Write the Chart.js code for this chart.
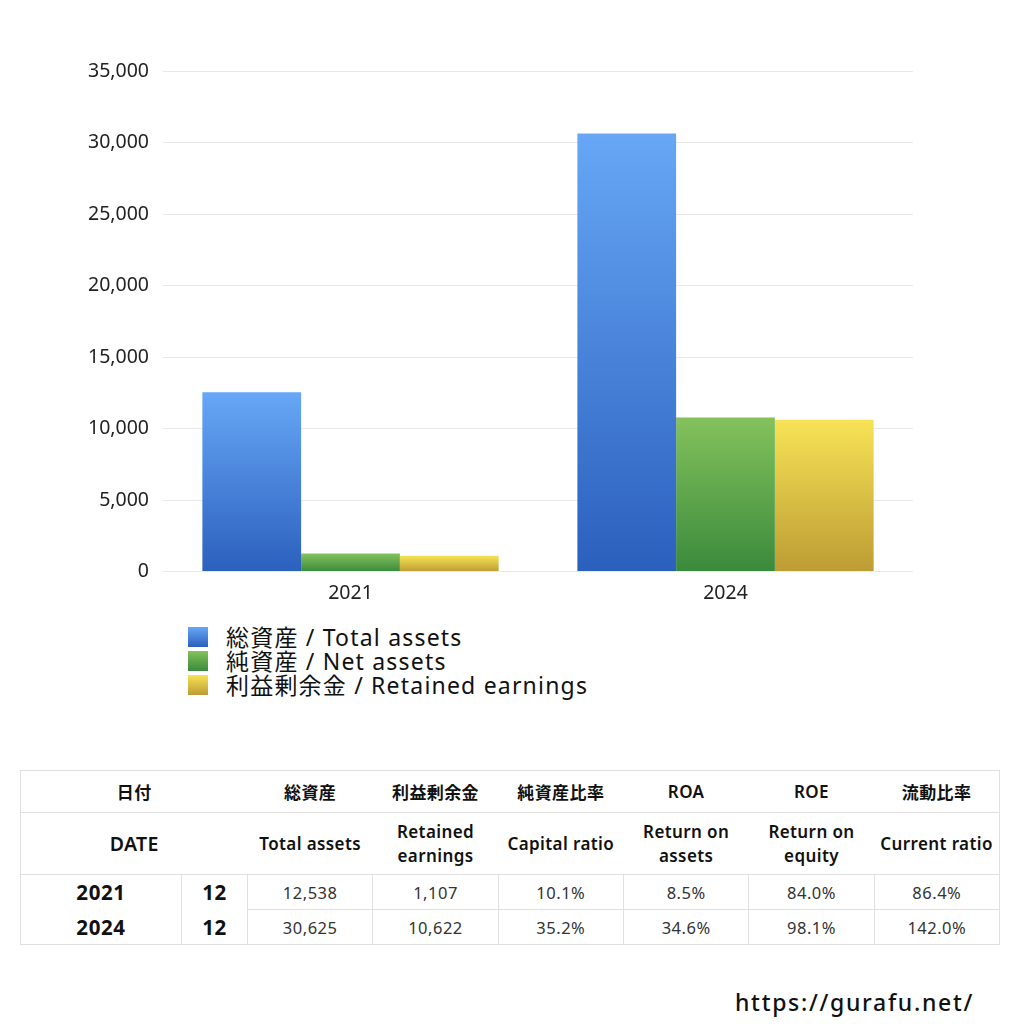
<!DOCTYPE html>
<html lang="ja">
<head>
  <meta charset="UTF-8" />
  <title>総資産 / 純資産 / 利益剰余金</title>
  <script src="https://cdn.jsdelivr.net/npm/chart.js"></script>
  <style>
    body {
      margin: 0;
      width: 1024px;
      height: 1024px;
      background: #ffffff;
      font-family: "Noto Sans", "Noto Sans CJK JP", sans-serif;
      color: #111;
      position: relative;
      overflow: hidden;
    }
    #chartBox {
      position: absolute;
      left: 0; top: 0;
      width: 1024px; height: 610px;
    }
    #legend {
      position: absolute;
      left: 188px; top: 625px;
      font-size: 23px;
      line-height: 24px;
      letter-spacing: 1.2px;
      color: #111;
    }
    .legend-item { display: flex; align-items: center; height: 24px; }
    .legend-box {
      width: 20px; height: 20px;
      margin-right: 18px;
    }
    table {
      position: absolute;
      left: 20px; top: 770px;
      width: 980px;
      border-collapse: collapse;
      table-layout: fixed;
      font-size: 17px;
      letter-spacing: 0.4px;
    }
    th {
      font-weight: 600;
      text-align: center;
      border-top: 1px solid #e0e0e0;
      border-bottom: 1px solid #e0e0e0;
      padding: 0;
      color: #111;
    }
    th.date { font-size: 19.5px; }
    tr.h1 th { height: 41px; }
    tr.h2 th { height: 61px; line-height: 24px; }
    td {
      text-align: center;
      border: 1px solid #e0e0e0;
      height: 34px;
      padding: 0;
      font-size: 16.5px;
      letter-spacing: 0.5px;
      color: #333;
    }
    td.yr, td.mo { font-weight: bold; font-size: 20.5px; color: #111; letter-spacing: 0.6px; }
    tr.r1 td.yr, tr.r1 td.mo { border-bottom: none; }
    tr.r2 td.yr, tr.r2 td.mo { border-top: none; }
    .first-col { border-left: 1px solid #e0e0e0; }
    .last-col { border-right: 1px solid #e0e0e0; }
    #site {
      position: absolute;
      left: 735px; top: 986px;
      font-size: 23px;
      font-weight: 500;
      letter-spacing: 1.7px;
    }
  </style>
</head>
<body>

<div id="chartBox"><canvas id="barChart"></canvas></div>
<div id="legend"></div>

<table>
  <colgroup>
    <col style="width:161px"><col style="width:66px">
    <col><col><col><col><col><col>
  </colgroup>
  <thead id="tableHead"></thead>
  <tbody id="tableBody"></tbody>
</table>

<div id="site">https://gurafu.net/</div>

<script>
  // chart data
  const years = ["2021", "2024"];
  const totalAssets = [12538, 30625];
  const netAssets = [1266, 10780];
  const retainedEarnings = [1107, 10622];
  const seriesNames = ["総資産 / Total assets", "純資産 / Net assets", "利益剰余金 / Retained earnings"];

  // table data
  const months = ["12", "12"];
  const headJa = ["総資産", "利益剰余金", "純資産比率", "ROA", "ROE", "流動比率"];
  const headEn = ["Total assets", "Retained<br>earnings", "Capital ratio", "Return on<br>assets", "Return on<br>equity", "Current ratio"];
  const capitalRatio = ["10.1%", "35.2%"];
  const roa = ["8.5%", "34.6%"];
  const roe = ["84.0%", "98.1%"];
  const currentRatio = ["86.4%", "142.0%"];

  // top / bottom of each gradient
  const gradColors = [
    ["#67a7f6", "#2b60bd"],
    ["#84c25c", "#3a8a3c"],
    ["#f7e356", "#bd9c34"]
  ];

  function barGradient(ctx, i) {
    const chart = ctx.chart;
    if (!chart.chartArea || ctx.raw === undefined) return gradColors[i][0];
    const y = chart.scales.y;
    const top = y.getPixelForValue(ctx.raw);
    const bottom = y.getPixelForValue(0);
    const g = chart.ctx.createLinearGradient(0, top, 0, bottom);
    g.addColorStop(0, gradColors[i][0]);
    g.addColorStop(1, gradColors[i][1]);
    return g;
  }

  const values = [totalAssets, netAssets, retainedEarnings];
  const tickFont = { size: 19.5, family: "'Noto Sans', 'Noto Sans CJK JP', sans-serif" };

  new Chart(document.getElementById("barChart"), {
    type: "bar",
    data: {
      labels: years,
      datasets: values.map((v, i) => ({
        label: seriesNames[i],
        data: v,
        backgroundColor: ctx => barGradient(ctx, i),
        borderWidth: 0,
        categoryPercentage: 0.79,
        barPercentage: 1.0
      }))
    },
    options: {
      responsive: true,
      maintainAspectRatio: false,
      animation: false,
      layout: { padding: { top: 71, right: 111, bottom: 3, left: 0 } },
      plugins: {
        legend: { display: false },
        tooltip: { enabled: false }
      },
      scales: {
        x: {
          grid: { display: false },
          border: { display: false },
          ticks: { color: "#222", font: tickFont, padding: 2 }
        },
        y: {
          min: 0,
          max: 35000,
          afterFit: s => { s.width = 163; },
          grid: { color: "#e9e9e9", drawTicks: false },
          border: { display: false },
          ticks: {
            stepSize: 5000,
            padding: 14,
            color: "#222",
            font: tickFont,
            callback: v => v.toLocaleString("en-US")
          }
        }
      }
    }
  });

  // legend
  const legend = document.getElementById("legend");
  seriesNames.forEach((name, i) => {
    const item = document.createElement("div");
    item.className = "legend-item";
    item.innerHTML = `<span class="legend-box" style="background:linear-gradient(${gradColors[i][0]}, ${gradColors[i][1]})"></span>${name}`;
    legend.appendChild(item);
  });

  // table
  const thead = document.getElementById("tableHead");
  thead.innerHTML =
    `<tr class="h1"><th colspan="2" class="first-col">日付</th>` +
    headJa.map((h, i) => `<th${i === headJa.length - 1 ? ' class="last-col"' : ''}>${h}</th>`).join("") + `</tr>` +
    `<tr class="h2"><th colspan="2" class="first-col date">DATE</th>` +
    headEn.map((h, i) => `<th${i === headEn.length - 1 ? ' class="last-col"' : ''}>${h}</th>`).join("") + `</tr>`;

  const tbody = document.getElementById("tableBody");
  years.forEach((y, r) => {
    const row = document.createElement("tr");
    row.className = "r" + (r + 1);
    row.innerHTML = `
      <td class="yr">${y}</td>
      <td class="mo">${months[r]}</td>
      <td>${totalAssets[r].toLocaleString("en-US")}</td>
      <td>${retainedEarnings[r].toLocaleString("en-US")}</td>
      <td>${capitalRatio[r]}</td>
      <td>${roa[r]}</td>
      <td>${roe[r]}</td>
      <td>${currentRatio[r]}</td>`;
    tbody.appendChild(row);
  });
</script>

</body>
</html>
